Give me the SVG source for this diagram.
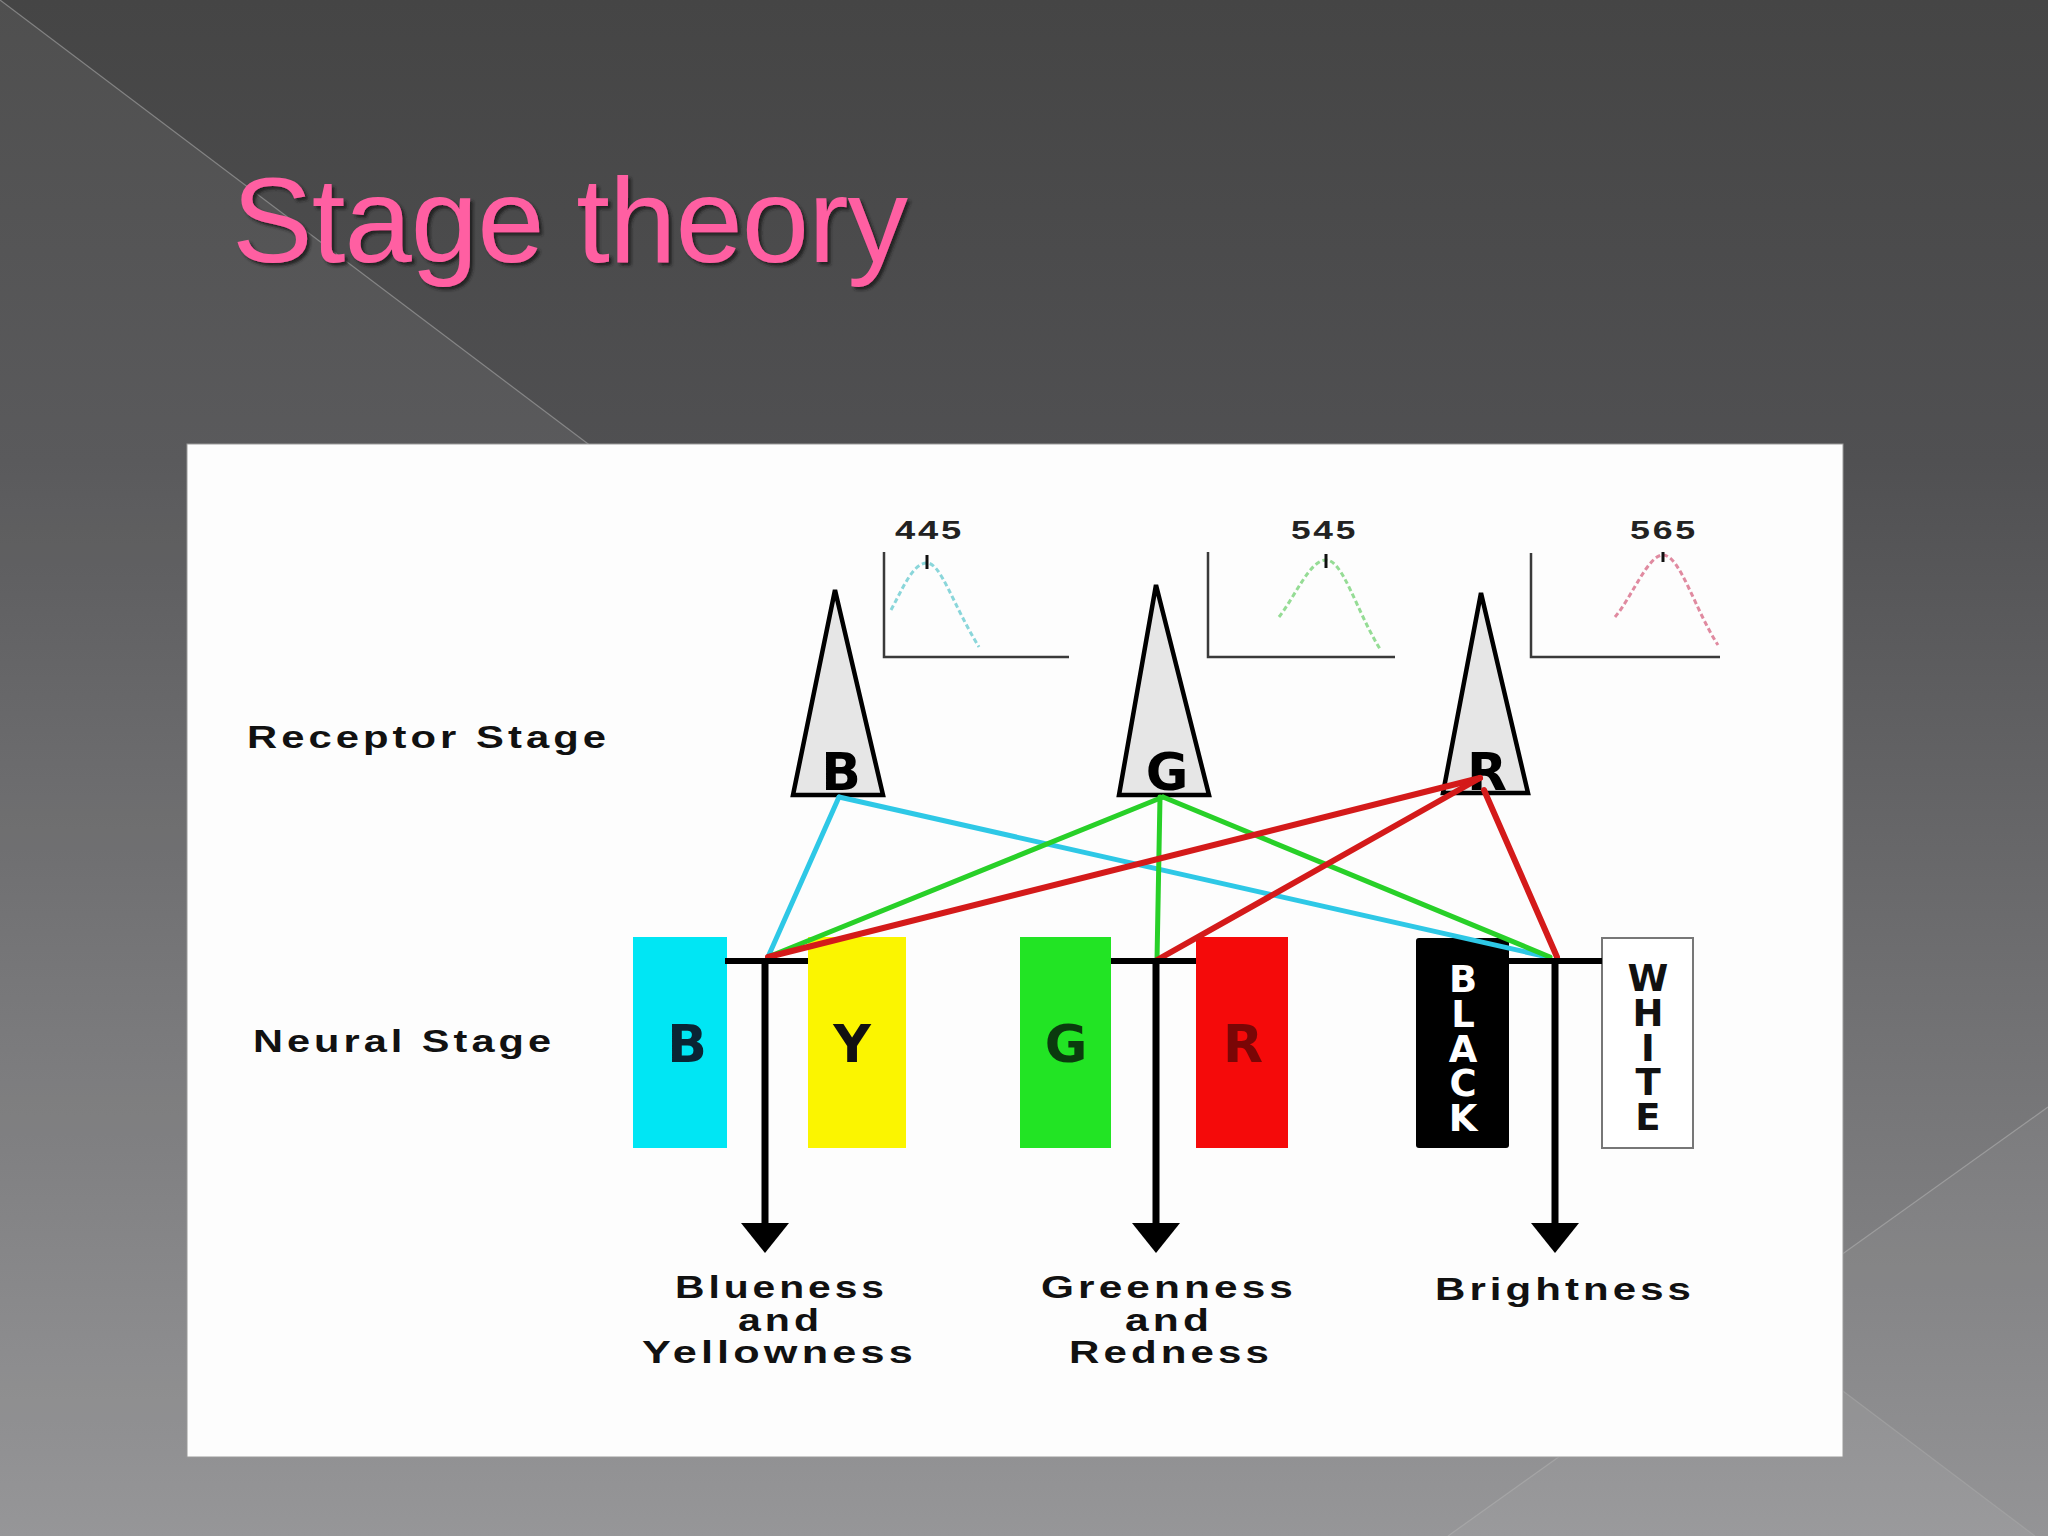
<svg xmlns="http://www.w3.org/2000/svg" width="2048" height="1536" viewBox="0 0 2048 1536">
<defs>
  <linearGradient id="bg" x1="0" y1="0" x2="0" y2="1">
    <stop offset="0" stop-color="#454545"/>
    <stop offset="0.3" stop-color="#505052"/>
    <stop offset="1" stop-color="#909092"/>
  </linearGradient>
  <filter id="tsh" x="-5%" y="-20%" width="110%" height="140%">
    <feDropShadow dx="3" dy="3" stdDeviation="1.5" flood-color="#1a1a1a" flood-opacity="0.9"/>
  </filter>
  <style>
    .lbl { font-family: "Liberation Sans", Arial, sans-serif; font-weight: bold; font-size: 31px; letter-spacing: 3px; fill: #111; }
    .num { font-family: "Liberation Sans", Arial, sans-serif; font-weight: bold; font-size: 26px; letter-spacing: 2px; fill: #222; }
    .big { font-family: "DejaVu Sans", "Liberation Sans", sans-serif; font-weight: bold; font-size: 52px; text-anchor: middle; }
    .vert { font-family: "DejaVu Sans", "Liberation Sans", sans-serif; font-weight: bold; font-size: 37px; writing-mode: vertical-rl; text-orientation: upright; }
    .cone { fill: #e6e6e6; stroke: #000; stroke-width: 4.5; stroke-linejoin: miter; }
    .axis { fill: none; stroke: #3a3a3a; stroke-width: 2.5; }
    .tick { stroke: #111; stroke-width: 3; }
    .bar { stroke: #000; stroke-width: 6; }
    .shaft { stroke: #000; stroke-width: 7; }
    .head { fill: #000; }
    .cy { stroke: #2ec8e6; stroke-width: 5; stroke-linecap: round; }
    .gr { stroke: #28d028; stroke-width: 5; stroke-linecap: round; }
    .rd { stroke: #d41a1a; stroke-width: 6; stroke-linecap: round; }
  </style>
</defs>

<!-- background -->
<rect x="0" y="0" width="2048" height="1536" fill="url(#bg)"/>
<polygon points="0,0 2035,1536 0,1536" fill="#ffffff" opacity="0.06"/>
<polygon points="2048,1107 2048,1536 1448,1536" fill="#ffffff" opacity="0.04"/>
<line x1="0" y1="0" x2="2035" y2="1536" stroke="#a8a8a8" stroke-width="1.2" opacity="0.6"/>
<line x1="2048" y1="1107" x2="1448" y2="1536" stroke="#b0b0b0" stroke-width="1.2" opacity="0.6"/>

<!-- title -->
<text x="232" y="262" font-family="Liberation Sans, Arial, sans-serif" font-size="121" fill="#ff5fa2" filter="url(#tsh)" textLength="676">Stage theory</text>

<!-- white panel -->
<rect x="187" y="444" width="1656" height="1013" fill="#fdfdfd" stroke="#9a9a9a" stroke-width="1"/>

<!-- stage labels -->
<text class="lbl" x="247" y="748" textLength="363" lengthAdjust="spacingAndGlyphs">Receptor Stage</text>
<text class="lbl" x="253" y="1052" textLength="302" lengthAdjust="spacingAndGlyphs">Neural Stage</text>

<!-- spectral graphs -->
<g id="graph445">
  <polyline class="axis" points="884,552 884,657 1069,657"/>
  <path d="M891,610 C903,588 913,563 927,563 C941,563 953,605 979,647" fill="none" stroke="#8ad6da" stroke-width="3" stroke-dasharray="5 3"/>
  <line class="tick" x1="927" y1="555" x2="927" y2="569"/>
  <text class="num" x="895" y="539" textLength="69" lengthAdjust="spacingAndGlyphs">445</text>
</g>
<g id="graph545">
  <polyline class="axis" points="1208,552 1208,657 1395,657"/>
  <path d="M1279,617 C1296,595 1310,560 1326,560 C1343,560 1356,610 1380,649" fill="none" stroke="#95dc95" stroke-width="3" stroke-dasharray="5 3"/>
  <line class="tick" x1="1326" y1="554" x2="1326" y2="568"/>
  <text class="num" x="1291" y="539" textLength="67" lengthAdjust="spacingAndGlyphs">545</text>
</g>
<g id="graph565">
  <polyline class="axis" points="1531,553 1531,657 1720,657"/>
  <path d="M1615,617 C1632,597 1648,555 1663,555 C1680,555 1695,610 1718,645" fill="none" stroke="#e08aa0" stroke-width="3" stroke-dasharray="5 3"/>
  <line class="tick" x1="1663" y1="552" x2="1663" y2="562"/>
  <text class="num" x="1630" y="539" textLength="68" lengthAdjust="spacingAndGlyphs">565</text>
</g>

<!-- receptor cones -->
<g id="cone-B">
  <polygon class="cone" points="835,590 793,795 883,795"/>
  <text class="big" x="841" y="790" fill="#000">B</text>
</g>
<g id="cone-G">
  <polygon class="cone" points="1156,585 1119,795 1209,795"/>
  <text class="big" x="1167" y="790" fill="#000">G</text>
</g>
<g id="cone-R">
  <polygon class="cone" points="1481,593 1443,793 1528,793"/>
  <text class="big" x="1487" y="790" fill="#000">R</text>
</g>

<!-- neural stage units -->
<g id="neural-B">
  <rect x="633" y="937" width="94" height="211" fill="#00e6f4"/>
  <text class="big" x="687" y="1062" fill="#0a2434">B</text>
</g>
<g id="neural-Y">
  <rect x="808" y="937" width="98" height="211" fill="#fbf500"/>
  <text class="big" x="852" y="1062" fill="#111">Y</text>
</g>
<g id="neural-G">
  <rect x="1020" y="937" width="91" height="211" fill="#22e424"/>
  <text class="big" x="1066" y="1062" fill="#0b3a0e">G</text>
</g>
<g id="neural-R">
  <rect x="1196" y="937" width="92" height="211" fill="#f50a0a"/>
  <text class="big" x="1243" y="1062" fill="#7a0606">R</text>
</g>
<g id="neural-BLACK">
  <rect x="1416" y="938" width="93" height="210" rx="3" fill="#000"/>
  <text class="vert" x="1463" y="958" fill="#fff" textLength="182" lengthAdjust="spacing">BLACK</text>
</g>
<g id="neural-WHITE">
  <rect x="1602" y="938" width="91" height="210" fill="#fff" stroke="#777" stroke-width="2"/>
  <text class="vert" x="1648" y="957" fill="#111" textLength="182" lengthAdjust="spacing">WHITE</text>
</g>

<!-- connectors -->
<g id="connectors">
  <line class="cy" x1="839" y1="797" x2="768" y2="957"/>
  <line class="cy" x1="839" y1="797" x2="1548" y2="957"/>
  <line class="gr" x1="1163" y1="797" x2="768" y2="957"/>
  <line class="gr" x1="1160" y1="797" x2="1157" y2="960"/>
  <line class="gr" x1="1163" y1="797" x2="1550" y2="957"/>
  <line class="rd" x1="1480" y1="778" x2="768" y2="957"/>
  <line class="rd" x1="1480" y1="778" x2="1157" y2="960"/>
  <line class="rd" x1="1484" y1="790" x2="1557" y2="957"/>

  <line class="bar" x1="725" y1="961" x2="808" y2="961"/>
  <line class="shaft" x1="765" y1="958" x2="765" y2="1228"/>
  <polygon class="head" points="741,1223 789,1223 765,1253"/>

  <line class="bar" x1="1111" y1="961" x2="1196" y2="961"/>
  <line class="shaft" x1="1156" y1="958" x2="1156" y2="1228"/>
  <polygon class="head" points="1132,1223 1180,1223 1156,1253"/>

  <line class="bar" x1="1509" y1="961" x2="1602" y2="961"/>
  <line class="shaft" x1="1555" y1="958" x2="1555" y2="1228"/>
  <polygon class="head" points="1531,1223 1579,1223 1555,1253"/>
</g>

<!-- output labels -->
<g id="out-BY">
  <text class="lbl" x="675" y="1298" textLength="213" lengthAdjust="spacingAndGlyphs">Blueness</text>
  <text class="lbl" x="738" y="1331" textLength="85" lengthAdjust="spacingAndGlyphs">and</text>
  <text class="lbl" x="642" y="1363" textLength="275" lengthAdjust="spacingAndGlyphs">Yellowness</text>
</g>
<g id="out-GR">
  <text class="lbl" x="1041" y="1298" textLength="256" lengthAdjust="spacingAndGlyphs">Greenness</text>
  <text class="lbl" x="1125" y="1331" textLength="88" lengthAdjust="spacingAndGlyphs">and</text>
  <text class="lbl" x="1069" y="1363" textLength="204" lengthAdjust="spacingAndGlyphs">Redness</text>
</g>
<g id="out-Bright">
  <text class="lbl" x="1435" y="1300" textLength="260" lengthAdjust="spacingAndGlyphs">Brightness</text>
</g>
</svg>
